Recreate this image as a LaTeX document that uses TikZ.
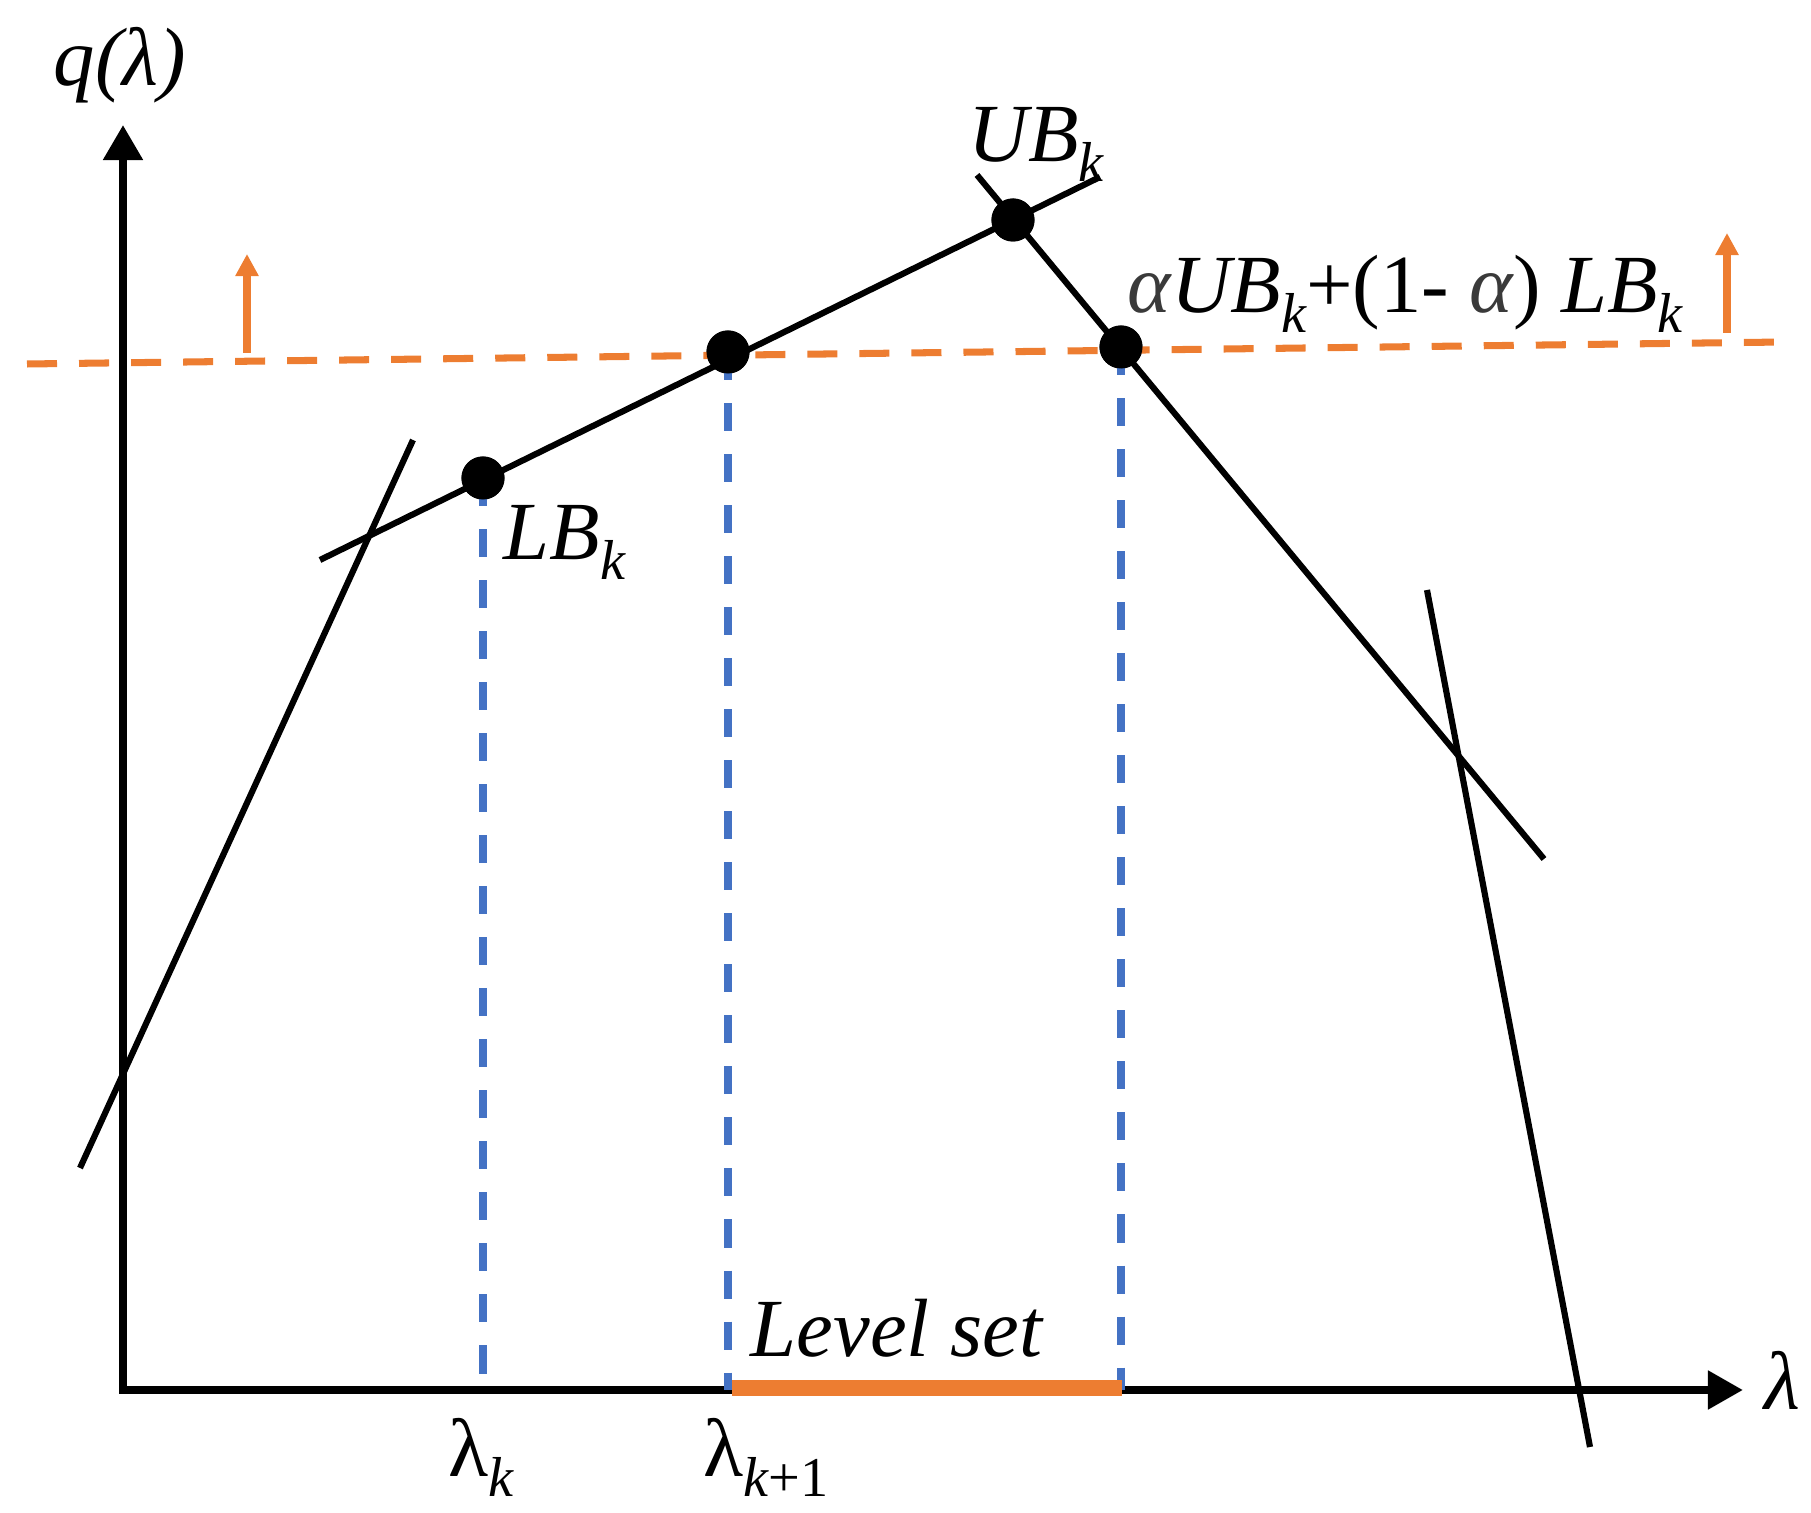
\documentclass[tikz,border=0pt]{standalone}
\usepackage{fontspec}
\setmainfont{Liberation Serif}
\usetikzlibrary{arrows.meta}
\definecolor{myorange}{HTML}{ED7D31}
\definecolor{myblue}{HTML}{4472C4}
\definecolor{alphagray}{HTML}{3A3A3A}
\newcommand\subk[1]{\raisebox{-0.24em}{\fontsize{16}{16}\selectfont #1}}
\begin{document}
\begin{tikzpicture}[x=0.01cm,y=-0.01cm,
  lbl/.style={inner sep=0pt,anchor=base west,font=\fontsize{23.5}{28}\selectfont\itshape},
  blk/.style={line width=1.75pt,black,line cap=butt},
  dot/.style={circle,fill=black,inner sep=0pt,minimum size=0.43cm},
  bluedash/.style={myblue,line width=2pt,dash pattern=on 0.28cm off 0.23cm},
  orgdash/.style={myorange,line width=2pt,dash pattern=on 0.30cm off 0.22cm},
  orgarrow/.style={myorange,line width=2pt,-{Triangle[length=0.22cm,width=0.22cm]}},
  axisline/.style={line width=2.3pt,{Triangle[length=0.35cm,width=0.38cm]}-{Triangle[length=0.35cm,width=0.37cm]}}]
\useasboundingbox (0,0) rectangle (1811,1513);
% coordinates
\coordinate (O) at (123,1390);
\coordinate (ytop) at (123,125);
\coordinate (xend) at (1743,1390);
\coordinate (od1) at (27,364);
\coordinate (od2) at (1784,342);
\coordinate (ls1) at (732,1388);
\coordinate (ls2) at (1122,1388);
\coordinate (a1) at (80,1168);
\coordinate (a2) at (413,440);
\coordinate (b1) at (320,560);
\coordinate (b2) at (1100,177);
\coordinate (c1) at (977,175);
\coordinate (c2) at (1544,859);
\coordinate (d1) at (1427,590);
\coordinate (d2) at (1590,1447);
\coordinate (la0) at (247,353);
\coordinate (la1) at (247,254);
\coordinate (ra0) at (1727,333);
\coordinate (ra1) at (1727,233);
% dots (as nodes)
\node[dot] (LB) at (483,478) {};
\node[dot] (MD) at (728,352) {};
\node[dot] (UB) at (1013,220) {};
\node[dot] (AL) at (1121,347) {};
% axes
\draw[axisline] (ytop) -- (O) -- (xend);
% orange level line and arrows
\draw[orgdash] (od1) -- (od2);
\draw[orgarrow] (la0) -- (la1);
\draw[orgarrow] (ra0) -- (ra1);
% blue projections
\draw[bluedash] (LB.center) -- (LB.center |- O);
\draw[bluedash] (MD.center) -- (MD.center |- O);
\draw[bluedash] (AL.center) -- (AL.center |- O);
% level set bar
\draw[myorange,line width=4.3pt] (ls1) -- (ls2);
% black cutting lines
\draw[blk] (a1) -- (a2);
\draw[blk] (b1) -- (b2);
\draw[blk] (c1) -- (c2);
\draw[blk] (d1) -- (d2);
% redraw dots on top
\fill (LB) circle (0.215cm);
\fill (MD) circle (0.215cm);
\fill (UB) circle (0.215cm);
\fill (AL) circle (0.215cm);
% labels
\node[lbl] (qlab) at (53,86) {q(λ)};
\node[lbl] (ublab) at (968,162) {UB\subk{k}};
\node[lbl] (allab) at (1127,313) {\textcolor{alphagray}{α}UB\subk{k}{\upshape +(1- }\textcolor{alphagray}{α}{\upshape )} LB\subk{k}};
\node[lbl] (lblab) at (503,560) {LB\subk{k}};
\node[lbl] (lslab) at (750,1357) {Level set};
\node[lbl] (lk) at (448,1477) {{\upshape λ}\subk{k}};
\node[lbl] (lk1) at (703,1477) {{\upshape λ}\subk{k{\upshape +1}}};
\node[lbl] (lamlab) at (1764,1410) {λ};
\end{tikzpicture}
\end{document}
